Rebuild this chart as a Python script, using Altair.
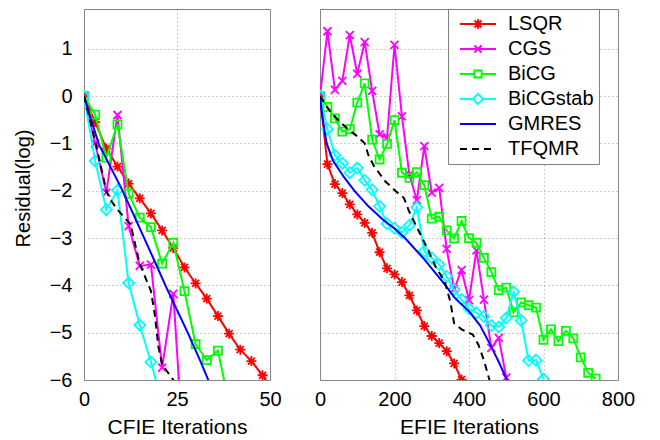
import altair as alt
import pandas as pd

SERIES = ["LSQR", "CGS", "BiCG", "BiCGstab", "GMRES", "TFQMR"]
COLORS = ["#ff0000", "#ff00ff", "#00ff00", "#00ffff", "#0000ff", "#000000"]
DASHES = [[1, 0], [1, 0], [1, 0], [1, 0], [1, 0], [7, 5]]

# ---------------- CFIE (left panel) ----------------
cfie_lsqr_it = [0, 3, 6, 9, 12, 15, 18, 21, 24, 27, 30, 33, 36, 39, 42, 45, 48, 51]
cfie_lsqr_val = [0, -0.55, -1.11, -1.49, -1.85, -2.16, -2.48, -2.84, -3.21, -3.62,
                 -3.96, -4.28, -4.65, -5.02, -5.36, -5.60, -5.90, -6.25]
cfie_cgs_it = [0, 3, 6, 9, 12, 15, 18, 21, 24, 27]
cfie_cgs_val = [0, -1.0, -2.04, -0.40, -2.75, -3.59, -3.56, -5.74, -4.18, -7.8]
cfie_bicg_it = [0, 3, 6, 9, 12, 15, 18, 21, 24, 27, 30, 33, 36, 39]
cfie_bicg_val = [0, -0.39, -1.30, -0.60, -2.06, -2.57, -2.77, -3.54, -3.10, -4.12,
                 -5.24, -5.58, -5.38, -6.5]
cfie_bicgstab_it = [0, 3, 6, 9, 12, 15, 18, 21]
cfie_bicgstab_val = [0, -1.37, -2.40, -1.99, -3.95, -4.84, -5.62, -6.5]
cfie_gmres_it = [0, 2, 4, 7, 10, 13, 16, 19, 22, 25, 28, 31, 34]
cfie_gmres_val = [0, -0.52, -1.02, -1.48, -1.94, -2.45, -2.97, -3.49, -4.02, -4.52,
                  -5.02, -5.55, -6.11]
cfie_tfqmr_it = [0, 3, 6, 7, 9, 12.5, 15, 18, 19, 20, 21, 24, 25]
cfie_tfqmr_val = [0, -0.95, -2.0, -2.18, -2.4, -2.71, -3.55, -4.12, -4.6, -5.3, -5.67,
                  -6.0, -6.2]

# ---------------- EFIE (right panel) ----------------
efie_lsqr_it = list(range(0, 381, 20))
efie_lsqr_val = [0, -1.44, -1.86, -2.05, -2.29, -2.50, -2.68, -2.89, -3.30, -3.64,
                 -3.77, -3.93, -4.21, -4.53, -4.86, -5.07, -5.22, -5.39, -5.65, -5.99]
efie_cgs_it = list(range(0, 501, 20))
efie_cgs_val = [0, 1.37, 0.13, 0.32, 1.29, 0.47, 1.14, 0.11, -0.81, -0.87,
                1.08, -0.43, -1.66, -2.20, -1.06, -2.04, -1.94, -3.23, -4.08, -3.68,
                -4.31, -3.26, -4.30, -5.32, -5.11, -5.95]
efie_bicg_it = list(range(0, 741, 20))
efie_bicg_val = [0, -0.23, -0.47, -0.75, -0.70, -0.14, 0.27, -0.92, -1.34, -1.01,
                 -0.51, -1.62, -1.73, -1.61, -1.88, -2.59, -2.55, -2.84, -3.01, -2.64,
                 -3.0, -3.10, -3.42, -3.72, -4.10, -4.05, -4.57, -4.36, -4.42, -4.47,
                 -5.15, -4.93, -5.18, -4.96, -5.12, -5.52, -5.85, -5.97]
efie_bicgstab_it = list(range(0, 601, 20))
efie_bicgstab_val = [0, -0.70, -1.25, -1.42, -1.62, -1.52, -1.78, -1.98, -2.33, -2.70,
                     -2.79, -2.88, -2.73, -2.35, -3.28, -3.42, -3.56, -3.81, -4.09, -4.30,
                     -4.49, -4.58, -4.66, -4.85, -4.88, -4.69, -4.14, -4.74, -5.59, -5.58,
                     -5.98]
efie_gmres_it = [0, 5, 11, 18, 35, 65, 92, 130, 170, 200, 228, 280, 337, 360, 400,
                 430, 460, 480, 503]
efie_gmres_val = [0, -0.35, -0.67, -1.0, -1.37, -1.72, -2.0, -2.33, -2.62, -2.8, -3.0,
                  -3.45, -4.0, -4.25, -4.55, -4.85, -5.3, -5.62, -6.02]
efie_tfqmr_it = [0, 20, 50, 75, 100, 120, 130, 145, 175, 205, 225, 240, 265, 290, 310,
                 335, 350, 360, 380, 410, 425, 440, 455]
efie_tfqmr_val = [0, -0.25, -0.52, -0.70, -0.85, -1.0, -1.25, -1.48, -1.80, -2.02,
                  -2.15, -2.45, -2.85, -3.25, -3.60, -3.92, -4.35, -4.80, -4.93, -5.04,
                  -5.25, -5.58, -6.0]

CFIE = {
    "LSQR": (cfie_lsqr_it, cfie_lsqr_val),
    "CGS": (cfie_cgs_it, cfie_cgs_val),
    "BiCG": (cfie_bicg_it, cfie_bicg_val),
    "BiCGstab": (cfie_bicgstab_it, cfie_bicgstab_val),
    "GMRES": (cfie_gmres_it, cfie_gmres_val),
    "TFQMR": (cfie_tfqmr_it, cfie_tfqmr_val),
}
EFIE = {
    "LSQR": (efie_lsqr_it, efie_lsqr_val),
    "CGS": (efie_cgs_it, efie_cgs_val),
    "BiCG": (efie_bicg_it, efie_bicg_val),
    "BiCGstab": (efie_bicgstab_it, efie_bicgstab_val),
    "GMRES": (efie_gmres_it, efie_gmres_val),
    "TFQMR": (efie_tfqmr_it, efie_tfqmr_val),
}

# markers drawn in the plot (custom symbol paths)
MARKERS = {
    "LSQR": "M-1,0H1M0,-1V1M-0.7,-0.7L0.7,0.7M-0.7,0.7L0.7,-0.7",
    "CGS": "M-0.8,-0.8L0.8,0.8M-0.8,0.8L0.8,-0.8",
    "BiCG": "M-0.8,-0.8H0.8V0.8H-0.8Z",
    "BiCGstab": "M0,-1.1L1.1,0L0,1.1L-1.1,0Z",
}
# legend symbols: line segment + marker
LEGEND_SYMBOLS = [
    "M-3,0H3M0,-0.8V0.8M-0.57,-0.57L0.57,0.57M-0.57,0.57L0.57,-0.57",
    "M-3,0H3M-0.6,-0.6L0.6,0.6M-0.6,0.6L0.6,-0.6",
    "M-3,0H-0.6M0.6,0H3M-0.6,-0.6H0.6V0.6H-0.6Z",
    "M-3,0H-0.85M0.85,0H3M0,-0.85L0.85,0L0,0.85L-0.85,0Z",
    "M-3,0H3",
    "M-3,0H3",
]

FONT = "Liberation Sans"
YDOM = [-6, 1.84]
H = 371


def panel(data, xdom, xvals, xtitle, width, first):
    x = alt.X("it:Q", scale=alt.Scale(domain=xdom, nice=False, zero=False),
              axis=alt.Axis(values=xvals, title=xtitle, labelFlush=False,
                            labelOverlap=False, labelPadding=9, titlePadding=7,
                            titleFontSize=21))
    if first:
        yaxis = alt.Axis(values=list(range(-6, 2)), title="Residual(log)",
                         labelPadding=12, titlePadding=16, titleFontSize=20,
                         titleY=179)
    else:
        yaxis = alt.Axis(values=list(range(-6, 2)), labels=False, title=None)
    y = alt.Y("val:Q", scale=alt.Scale(domain=YDOM, nice=False, zero=False), axis=yaxis)

    layers = []
    for s, c in zip(SERIES, COLORS):
        its, vals = data[s]
        df = pd.DataFrame({"it": its, "val": vals, "series": s})
        kw = dict(color=c, strokeWidth=2, clip=True)
        if s == "TFQMR":
            kw["strokeDash"] = [7, 5]
        if s in MARKERS:
            kw["point"] = alt.OverlayMarkDef(shape=MARKERS[s], filled=False, size=100,
                                             color=c, strokeWidth=1.8, opacity=1,
                                             clip=True)
        layers.append(alt.Chart(df).mark_line(**kw).encode(x=x, y=y))

    if not first:
        leg = alt.Legend(title=None, orient="none", legendX=128, legendY=0,
                         padding=5, rowPadding=5, symbolSize=144, symbolOffset=15,
                         labelOffset=20, labelFontSize=20, labelFont=FONT,
                         labelColor="black", strokeColor="#808080",
                         fillColor="white", symbolStrokeWidth=2, labelLimit=300,
                         labelExpr="datum.label + '\u2002'")
        ldf = pd.DataFrame({"series": SERIES, "it": [0] * 6, "val": [0] * 6})
        legend_layer = alt.Chart(ldf).transform_filter("false").mark_point(
            filled=False, opacity=1, strokeWidth=2).encode(
            x=x, y=y,
            color=alt.Color("series:N", scale=alt.Scale(domain=SERIES, range=COLORS),
                            legend=leg),
            shape=alt.Shape("series:N", scale=alt.Scale(domain=SERIES, range=LEGEND_SYMBOLS),
                            legend=leg),
            strokeDash=alt.StrokeDash("series:N", scale=alt.Scale(domain=SERIES, range=DASHES),
                                      legend=leg),
        )
        layers.append(legend_layer)

    return alt.layer(*layers).properties(width=width, height=H)


left = panel(CFIE, [0, 50], [0, 25, 50], "CFIE Iterations", 186, True)
right = panel(EFIE, [0, 800], [0, 200, 400, 600, 800], "EFIE Iterations", 298, False)

chart = alt.hconcat(left, right, spacing=50, bounds="flush").resolve_scale(
    color="independent", shape="independent", strokeDash="independent"
).properties(
    padding={"left": 4, "top": 0, "right": 4, "bottom": 0}
).configure_view(
    stroke="#808080", strokeWidth=1
).configure_axis(
    labelFont=FONT, titleFont=FONT, labelFontSize=20, titleFontWeight="normal",
    labelColor="black", titleColor="black", gridColor="#999999", gridDash=[1, 3],
    gridOpacity=1, gridWidth=1, domain=False, ticks=False, tickSize=0
)

chart.save("out.html", embed_options={"renderer": "svg", "actions": False})
